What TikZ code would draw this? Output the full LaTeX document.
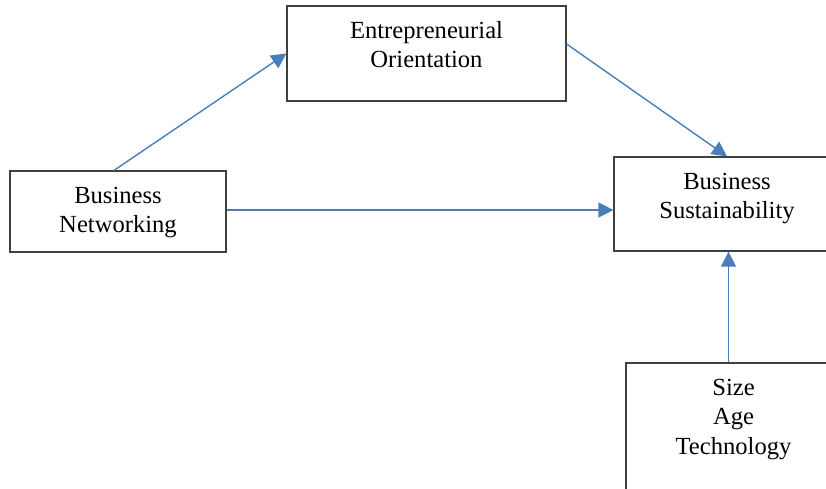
\documentclass[tikz,border=0pt]{standalone}
\usepackage{fontspec}
\setmainfont{Liberation Serif}
\usetikzlibrary{calc,arrows.meta}

% top-aligned text inside a fixed box
\newcommand{\boxtext}[3]{\parbox[c][#2][t]{#1}{\centering\vspace*{11.5pt}\strut #3}}

\begin{document}
\begin{tikzpicture}[x=1pt, y=-1pt]
    % Styles
    \tikzset{
        varbox/.style={draw=black!75, line width=1.2pt, inner sep=0pt, font=\fontsize{24.6}{29.5}\selectfont},
        link/.style={draw={rgb,255:red,74;green,126;blue,187}, line width=1.4pt, -{Triangle[length=15pt, width=15pt]}}
    }

    % Page frame
    \clip (0,0) rectangle (826,488);

    % Boxes
    \node[varbox] (bn) at (118,211.5) {\boxtext{216pt}{81pt}{Business\\Networking}};
    \node[varbox] (eo) at (426.5,53.5) {\boxtext{279pt}{95pt}{Entrepreneurial\\Orientation}};
    \node[varbox] (bs) at (727,204) {\boxtext{226pt}{94pt}{Business\\Sustainability}};
    \node[varbox] (sat) at (733.5,428) {\boxtext{215pt}{130pt}{Size\\Age\\Technology}};

    % Arrows
    \draw[link] ([xshift=-4pt]bn.north) -- (eo.west);
    \draw[link] ([yshift=9.5pt]eo.east) -- (bs.north);
    \draw[link] ([yshift=1.5pt]bn.east) -- ([yshift=1.5pt]bn.east -| bs.west);
    \draw[link] ([xshift=1.5pt]bs.south |- sat.north) -- ([xshift=1.5pt]bs.south);

\end{tikzpicture}
\end{document}
